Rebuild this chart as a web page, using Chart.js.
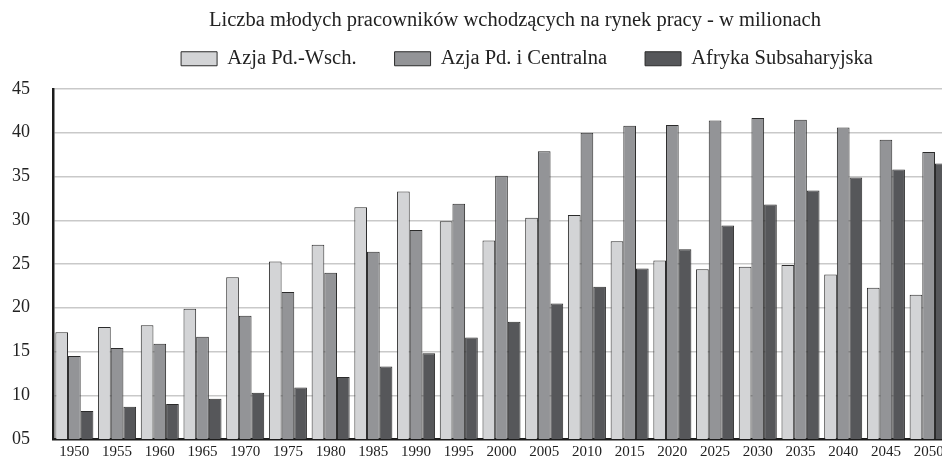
<!DOCTYPE html>
<html>
<head>
<meta charset="utf-8">
<script src="https://cdn.jsdelivr.net/npm/chart.js@4.4.1/dist/chart.umd.min.js"></script>
<style>
  html, body { margin: 0; padding: 0; background: #fff; overflow: hidden; }
  canvas { display: block; }
</style>
</head>
<body>
<canvas id="chart" width="950" height="461"></canvas>
<script>
// Chart data
const years = ['1950', '1955', '1960', '1965', '1970', '1975', '1980', '1985', '1990', '1995', '2000',
               '2005', '2010', '2015', '2020', '2025', '2030', '2035', '2040', '2045', '2050'];
const azjaPdWsch = [17.2, 17.8, 18.0, 19.9, 23.5, 25.3, 27.2, 31.5, 33.3, 29.9, 27.7,
                    30.3, 30.6, 27.6, 25.4, 24.4, 24.7, 24.9, 23.8, 22.3, 21.5];
const azjaPdCentr = [14.5, 15.4, 15.9, 16.7, 19.1, 21.8, 24.0, 26.4, 28.9, 31.9, 35.1,
                     37.9, 40.0, 40.8, 40.9, 41.4, 41.7, 41.5, 40.6, 39.2, 37.8];
const afrykaSub = [8.2, 8.7, 9.0, 9.6, 10.3, 10.9, 12.1, 13.3, 14.8, 16.6, 18.4,
                   20.5, 22.4, 24.5, 26.7, 29.4, 31.8, 33.4, 34.9, 35.8, 36.5];
const yTickLabels = ['05', '10', '15', '20', '25', '30', '35', '40', '45'];

const serif = "'Liberation Serif', 'Times New Roman', serif";

// Nudge title and legend to where they sit in the original
const shiftHeader = {
    id: 'shiftHeader',
    afterLayout(chart) {
        const t = chart.titleBlock, l = chart.legend;
        t.left += 34; t.right += 34; t.top += 10; t.bottom += 10;
        l.left += 46; l.right += 46; l.top -= 10; l.bottom -= 10;
    }
};

function barSet(label, data, color) {
    return {
        label: label,
        data: data,
        backgroundColor: color,
        borderColor: '#2b2b2b',
        borderWidth: 1,
        categoryPercentage: 0.89,
        barPercentage: 1.0
    };
}

new Chart(document.getElementById('chart'), {
    type: 'bar',
    data: {
        labels: years,
        datasets: [
            barSet('Azja Pd.-Wsch.', azjaPdWsch, '#d3d4d6'),
            barSet('Azja Pd. i Centralna', azjaPdCentr, '#939497'),
            barSet('Afryka Subsaharyjska', afrykaSub, '#56575a')
        ]
    },
    plugins: [shiftHeader],
    options: {
        responsive: false,
        animation: false,
        devicePixelRatio: 1,
        layout: {
            padding: { left: 12, right: 0, top: 0, bottom: 0 }
        },
        plugins: {
            title: {
                display: true,
                text: 'Liczba młodych pracowników wchodzących na rynek pracy - w milionach',
                color: '#222',
                font: { family: serif, size: 20.5, weight: 'normal', lineHeight: 1 },
                padding: { top: 0, bottom: 0 }
            },
            legend: {
                position: 'top',
                labels: {
                    color: '#222',
                    boxWidth: 36,
                    boxHeight: 14,
                    padding: 38,
                    font: { family: serif, size: 20.5 }
                }
            },
            tooltip: { enabled: false }
        },
        scales: {
            x: {
                grid: { display: false, drawTicks: false },
                border: { display: true, color: '#1c1c1c', width: 2.5 },
                ticks: {
                    color: '#222',
                    padding: 4,
                    maxRotation: 0,
                    autoSkip: false,
                    font: { family: serif, size: 15 }
                },
                afterFit: function (scale) { scale.height = 22; }
            },
            y: {
                min: 5,
                max: 45,
                grid: { color: '#c9c9c9', lineWidth: 1.5, drawTicks: false },
                border: { display: true, color: '#1c1c1c', width: 2.5 },
                ticks: {
                    stepSize: 5,
                    padding: 0,
                    crossAlign: 'far',
                    color: '#222',
                    font: { family: serif, size: 18 },
                    callback: function (value, index) {
                        return yTickLabels[index];
                    }
                },
                afterFit: function (scale) { scale.width = 41; }
            }
        }
    }
});
</script>
</body>
</html>
